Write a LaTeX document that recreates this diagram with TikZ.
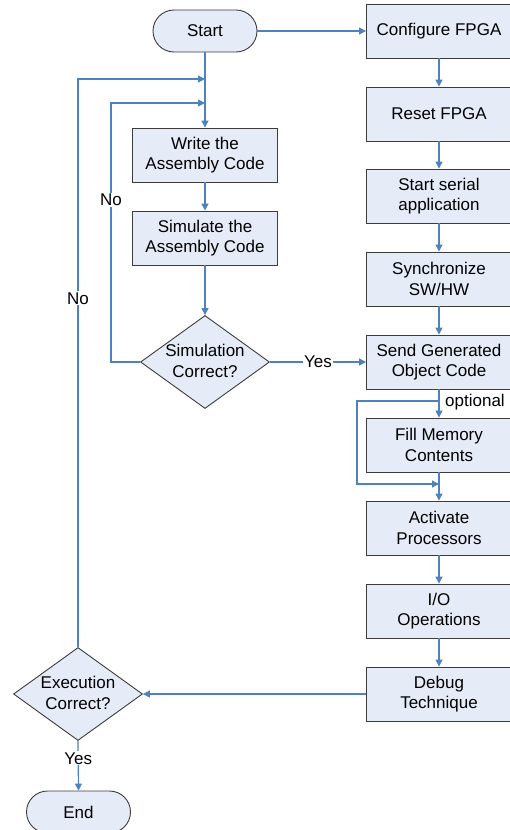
\documentclass[tikz,border=0pt]{standalone}
\usepackage{fontspec}
\setmainfont{Liberation Sans}
\usetikzlibrary{shapes.geometric,arrows.meta}
\definecolor{boxfill}{RGB}{230,236,247}
\definecolor{lineblue}{RGB}{79,129,189}
\definecolor{border}{RGB}{60,60,60}
\tikzset{
  txt/.style={font=\fontsize{17}{20.5}\selectfont, align=center, inner sep=0pt},
  procbox/.style={txt, draw=border, line width=0.9pt, fill=boxfill, minimum width=145pt, minimum height=54pt},
  termbox/.style={txt, draw=border, line width=0.9pt, fill=boxfill, rounded corners=21pt, minimum width=104pt, minimum height=42pt},
  decbox/.style={diamond, draw=border, line width=0.9pt, fill=boxfill, minimum width=129pt, minimum height=93pt, inner sep=0pt},
  conn/.style={draw=lineblue, line width=1.2pt},
  arr/.style={conn, -{Triangle[width=7pt,length=7pt]}},
  lbl/.style={txt, fill=white, inner sep=1pt}
}
\begin{document}
\begin{tikzpicture}[x=1pt,y=-1pt]
\useasboundingbox (0,0) rectangle (509,830);
% left column
\node[termbox] (start) at (205,31) {Start};
\node[procbox] (write) at (205,155) {Write the\\Assembly Code};
\node[procbox] (simulate) at (205,238) {Simulate the\\Assembly Code};
\node[decbox] (sim) at (205,362) {};
\node[txt] (simlbl) at (205,361) {Simulation\\Correct?};
\node[decbox] (exec) at (78,694) {};
\node[txt] (execlbl) at (78,693) {Execution\\Correct?};
\node[termbox] (end) at (78.5,812) {End};
% right column
\node[procbox] (cfg) at (439,31) {Configure FPGA};
\node[procbox] (reset) at (439,114) {Reset FPGA};
\node[procbox] (serial) at (439,196) {Start serial\\application};
\node[procbox] (sync) at (439,279) {Synchronize\\SW/HW};
\node[procbox] (send) at (439,362) {Send Generated\\Object Code};
\node[procbox] (fill) at (439,445) {Fill Memory\\Contents};
\node[procbox] (act) at (439,528) {Activate\\Processors};
\node[procbox] (io) at (439,611) {I/O\\Operations};
\node[procbox] (debug) at (439,694) {Debug\\Technique};
% coordinates
\coordinate (j1) at (205,79);
\coordinate (j2) at (205,103);
\coordinate (c2) at (111,103);
\coordinate (o1) at (439,401);
\coordinate (o2) at (357,484);
\coordinate (o3) at (439,484);
% connectors
\draw[arr] (start) -- (cfg);
\draw[arr] (start) -- (write);
\draw[arr] (write) -- (simulate);
\draw[arr] (simulate) -- (sim.north);
\draw[arr] (exec.north) |- node[lbl, pos=0.307] (no1) {No} (j1);
\draw[arr] (sim.west) -| (c2) -- (j2);
\node[lbl] (no2) at (111,200) {No};
\draw[arr] (sim.east) -- node[lbl, pos=0.5] (yes1) {Yes} (send.west);
\draw[arr] (cfg) -- (reset);
\draw[arr] (reset) -- (serial);
\draw[arr] (serial) -- (sync);
\draw[arr] (sync) -- (send);
\draw[arr] (send) -- (fill);
\draw[arr] (fill) -- (act);
\draw[arr] (act) -- (io);
\draw[arr] (io) -- (debug);
\draw[arr] (o1) -| (o2) -- (o3);
\node[txt, anchor=west] (opt) at (445,402) {optional};
\draw[arr] (debug.west) -- (exec.east);
\draw[arr] (exec.south) -- node[lbl, pos=0.35] (yes2) {Yes} (end.north);
\end{tikzpicture}
\end{document}
